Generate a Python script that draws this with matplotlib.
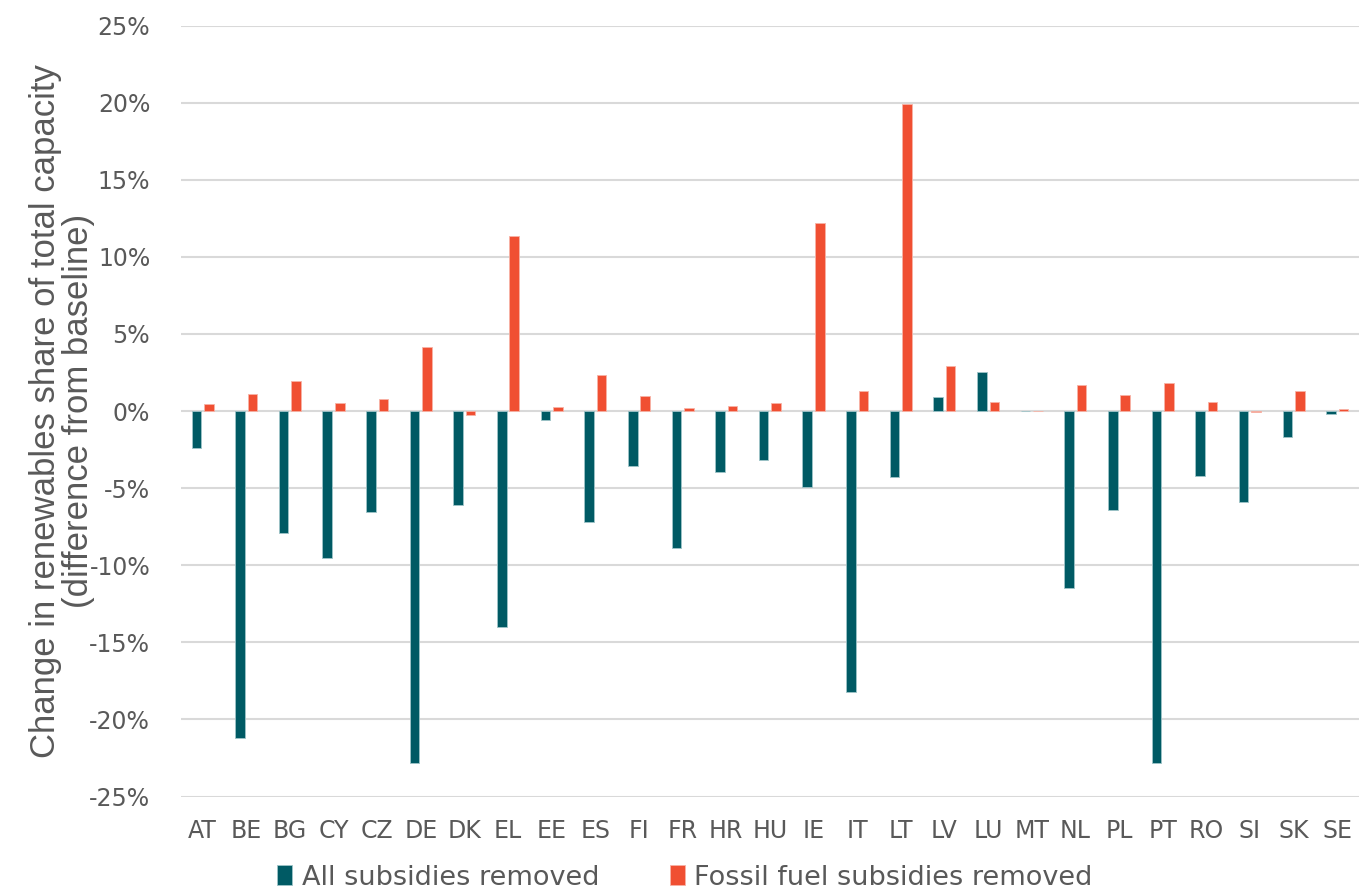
import matplotlib
matplotlib.use("Agg")
import matplotlib.pyplot as plt
import numpy as np
from matplotlib.ticker import FuncFormatter

countries = ["AT", "BE", "BG", "CY", "CZ", "DE", "DK", "EL", "EE", "ES", "FI", "FR", "HR", "HU",
             "IE", "IT", "LT", "LV", "LU", "MT", "NL", "PL", "PT", "RO", "SI", "SK", "SE"]
all_removed = [-2.4, -21.2, -7.9, -9.5, -6.55, -22.8, -6.1, -14.0, -0.6, -7.2, -3.55, -8.9, -3.95, -3.2,
               -4.9, -18.2, -4.3, 0.9, 2.5, 0.0, -11.5, -6.4, -22.8, -4.2, -5.9, -1.7, -0.18]
fossil_removed = [0.45, 1.1, 1.95, 0.55, 0.8, 4.15, -0.24, 11.35, 0.24, 2.35, 0.95, 0.22, 0.35, 0.52,
                  12.2, 1.3, 19.9, 2.92, 0.56, 0.0, 1.66, 1.06, 1.83, 0.61, -0.08, 1.27, 0.1]
y_ticks = [-25, -20, -15, -10, -5, 0, 5, 10, 15, 20, 25]

teal = "#005A64"
orange = "#F04F32"
grey_text = "#595959"

fig = plt.figure(figsize=(13.59, 8.92), dpi=100)
ax = fig.add_axes([0.133, 0.107, 0.867, 0.8644])

x = np.arange(len(countries))
w = 0.22
ax.bar(x - 0.143, all_removed, w, color=teal, edgecolor="#9FC4C8", linewidth=0.6,
       label="All subsidies removed", zorder=3)
ax.bar(x + 0.143, fossil_removed, w, color=orange, edgecolor="#F7B3A6", linewidth=0.6,
       label="Fossil fuel subsidies removed", zorder=3)

ax.set_ylim(-25, 25)
ax.set_xlim(-0.5, len(countries) - 0.5)
ax.set_yticks(y_ticks)
ax.yaxis.set_major_formatter(FuncFormatter(lambda v, p: "%d%%" % v))
ax.set_xticks(x)
ax.set_xticklabels(countries)
ax.grid(axis="y", color="#D9D9D9", linewidth=1.5, zorder=0)
ax.set_axisbelow(True)
for s in ax.spines.values():
    s.set_visible(False)
ax.tick_params(axis="both", length=0, labelsize=17, labelcolor=grey_text)
ax.tick_params(axis="x", pad=16)
ax.tick_params(axis="y", pad=22)

ax.set_ylabel("Change in renewables share of total capacity\n(difference from baseline)",
              fontsize=25, color=grey_text, family="Liberation Sans",
              linespacing=1.0, labelpad=-4)

leg = fig.legend(loc="center", bbox_to_anchor=(0.504, 0.016), ncol=2, frameon=False,
                 fontsize=19.5, handlelength=0.55, handleheight=0.75, handletextpad=0.35,
                 columnspacing=2.6)
for t in leg.get_texts():
    t.set_color(grey_text)

fig.savefig("out.png", dpi=100)
